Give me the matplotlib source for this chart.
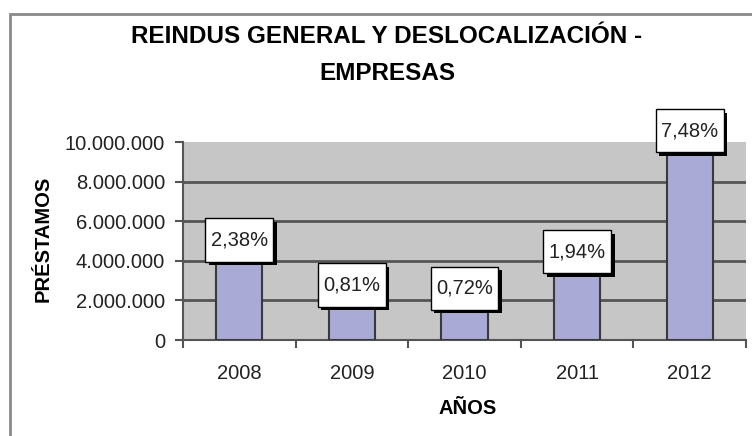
import numpy as np
import matplotlib
matplotlib.use('Agg')
import matplotlib.pyplot as plt
import matplotlib.patheffects as pe
from matplotlib.patches import Rectangle
from matplotlib.path import Path

plt.rcParams['font.family'] = ['Liberation Sans', 'DejaVu Sans']

years = ['2008', '2009', '2010', '2011', '2012']
prestamos = [3870000, 1600000, 1430000, 3280000, 9380000]
pct_labels = ['2,38%', '0,81%', '0,72%', '1,94%', '7,48%']
y_ticks = [0, 2000000, 4000000, 6000000, 8000000, 10000000]
y_tick_labels = ['0', '2.000.000', '4.000.000', '6.000.000', '8.000.000', '10.000.000']

title = 'REINDUS GENERAL Y DESLOCALIZACIÓN -\nEMPRESAS'
xlabel = 'AÑOS'
ylabel = 'PRÉSTAMOS'


def label_box(x0, y0, width, height, mutation_size):
    # wider vertical padding than horizontal, like the excel data labels
    px = 0.27 * mutation_size
    py = 0.6 * mutation_size
    x1, y1 = x0 + width + px, y0 + height + py
    x0, y0 = x0 - px, y0 - py
    return Path([(x0, y0), (x1, y0), (x1, y1), (x0, y1), (x0, y0)], closed=True)


fig = plt.figure(figsize=(7.52, 4.36), dpi=100)
fig.patch.set_facecolor('white')

# outer chart frame (runs off right and bottom edges)
fig.patches.append(Rectangle((10 / 752, -0.05), 1.1, 1 - 14 / 436 + 0.05,
                             transform=fig.transFigure, fill=False,
                             edgecolor='#8a8a8a', linewidth=2))

ax = fig.add_axes([183 / 752, 1 - 340 / 436, (746 - 183) / 752, (340 - 142) / 436])
ax.set_facecolor('#c6c6c6')

x = np.arange(len(years))
ax.bar(x, prestamos, width=0.41, color='#aaaad6', edgecolor='#3a3a3a', linewidth=1.5, zorder=3)

for t in y_ticks[1:-1]:
    ax.axhline(t, color='#555555', linewidth=2, zorder=1)

ax.set_xlim(-0.5, len(years) - 0.5)
ax.set_ylim(0, 10000000)
ax.set_yticks(y_ticks)
ax.set_yticklabels(y_tick_labels)
ax.set_xticks(x)
ax.set_xticklabels(years)
ax.set_xticks(np.arange(len(years) + 1) - 0.5, minor=True)
ax.tick_params(axis='x', which='major', length=0, pad=17, labelsize=14.5, colors='#222222')
ax.tick_params(axis='x', which='minor', length=6, width=1.5, color='#555555', direction='out')
ax.tick_params(axis='y', length=6, width=1.5, color='#555555', pad=7, labelsize=14.5,
               labelcolor='#222222')

for s in ['top', 'right']:
    ax.spines[s].set_visible(False)
for s in ['left', 'bottom']:
    ax.spines[s].set_color('#555555')
    ax.spines[s].set_linewidth(1.5)

for xi, v, lab in zip(x, prestamos, pct_labels):
    t = ax.annotate(lab, (xi, v), xytext=(0, 10), textcoords='offset points',
                    ha='center', va='bottom', fontsize=14.5, color='#222222',
                    zorder=5, annotation_clip=False,
                    bbox=dict(boxstyle=label_box, facecolor='white',
                              edgecolor='black', linewidth=1))
    t.get_bbox_patch().set_path_effects([
        pe.SimplePatchShadow(offset=(2.5, -2.5), shadow_rgbFace='black', alpha=1),
        pe.Normal()])

fig.text(387 / 752, 1 - 55 / 436, title, ha='center', va='center', fontsize=17.5,
         fontweight='bold', linespacing=1.75)
fig.text(43 / 752, 1 - 239 / 436, ylabel, ha='center', va='center', rotation=90,
         fontsize=14.5, fontweight='bold')
fig.text(468 / 752, 1 - 408 / 436, xlabel, ha='center', va='center',
         fontsize=14.5, fontweight='bold')

fig.savefig('out.png', dpi=100)
